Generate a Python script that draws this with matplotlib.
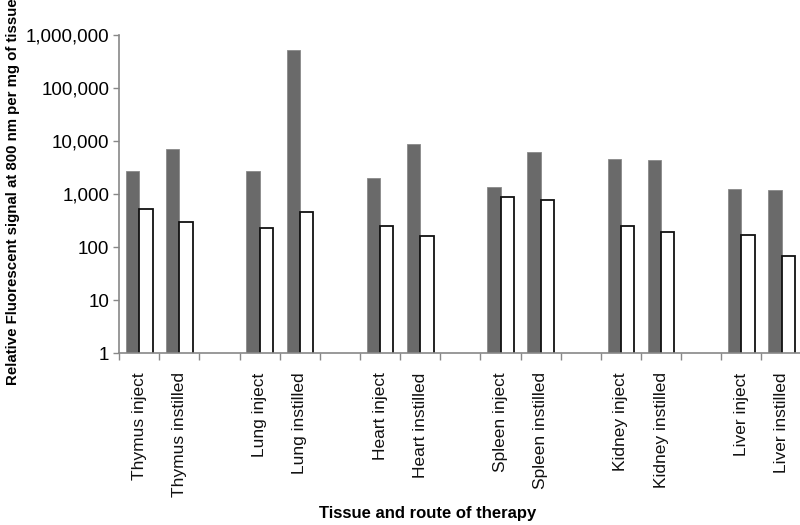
import numpy as np
import matplotlib
matplotlib.use("Agg")
import matplotlib.pyplot as plt
from matplotlib.ticker import FixedLocator, NullLocator

plt.rcParams['font.family'] = ['Liberation Sans', 'DejaVu Sans']

# categories (blank entries are the gaps between tissues)
labels = ['Thymus inject', 'Thymus instilled', '',
          'Lung inject', 'Lung instilled', '',
          'Heart inject', 'Heart instilled', '',
          'Spleen inject', 'Spleen instilled', '',
          'Kidney inject', 'Kidney instilled', '',
          'Liver inject', 'Liver instilled']

gray_vals = [2750, 7050, np.nan,
             2750, 525000, np.nan,
             1980, 8700, np.nan,
             1340, 6270, np.nan,
             4500, 4450, np.nan,
             1260, 1190]

white_vals = [515, 300, np.nan,
              225, 465, np.nan,
              252, 162, np.nan,
              890, 760, np.nan,
              252, 192, np.nan,
              170, 69]

fig = plt.figure(figsize=(8, 5.25), dpi=100)
ax = fig.add_axes([0.149, 0.3276, 0.853, 0.6054])

x = np.arange(len(labels))
w = 0.33
ax.bar(x - w / 2, gray_vals, width=w, color='#6a6a6a', edgecolor='#8a8a8a',
       linewidth=0.6)
ax.bar(x + w / 2, white_vals, width=w, color='white', edgecolor='#111111',
       linewidth=1.3)

ax.set_yscale('log')
ax.set_ylim(1, 1e6)
ax.set_xlim(-0.5, len(labels) - 0.5)

yt = [1, 10, 100, 1000, 10000, 100000, 1000000]
ax.yaxis.set_major_locator(FixedLocator(yt))
ax.yaxis.set_minor_locator(NullLocator())
ax.set_yticklabels(['{:,}'.format(v) for v in yt], fontsize=13.5)

# category labels in the middle, ticks at boundaries
ax.set_xticks(x)
ax.set_xticklabels(labels, rotation=90, fontsize=12.5, color='#111111')
ax.tick_params(axis='x', length=0, pad=14)
ax.xaxis.set_minor_locator(FixedLocator(np.arange(len(labels) + 1) - 0.5))
ax.tick_params(axis='x', which='minor', length=5, color='#888888', width=1)
ax.tick_params(axis='y', length=4, color='#888888', width=1, pad=3)

for s in ['top', 'right']:
    ax.spines[s].set_visible(False)
for s in ['left', 'bottom']:
    ax.spines[s].set_color('#888888')
    ax.spines[s].set_linewidth(1.2)

fig.text(0.016, 0.634, 'Relative Fluorescent signal at 800 nm per mg of tissue',
         rotation=90, ha='center', va='center', fontsize=10.8, fontweight='bold')
fig.text(0.534, 0.008, 'Tissue and route of therapy', ha='center',
         va='bottom', fontsize=12, fontweight='bold')

fig.savefig('out.png', dpi=100)
